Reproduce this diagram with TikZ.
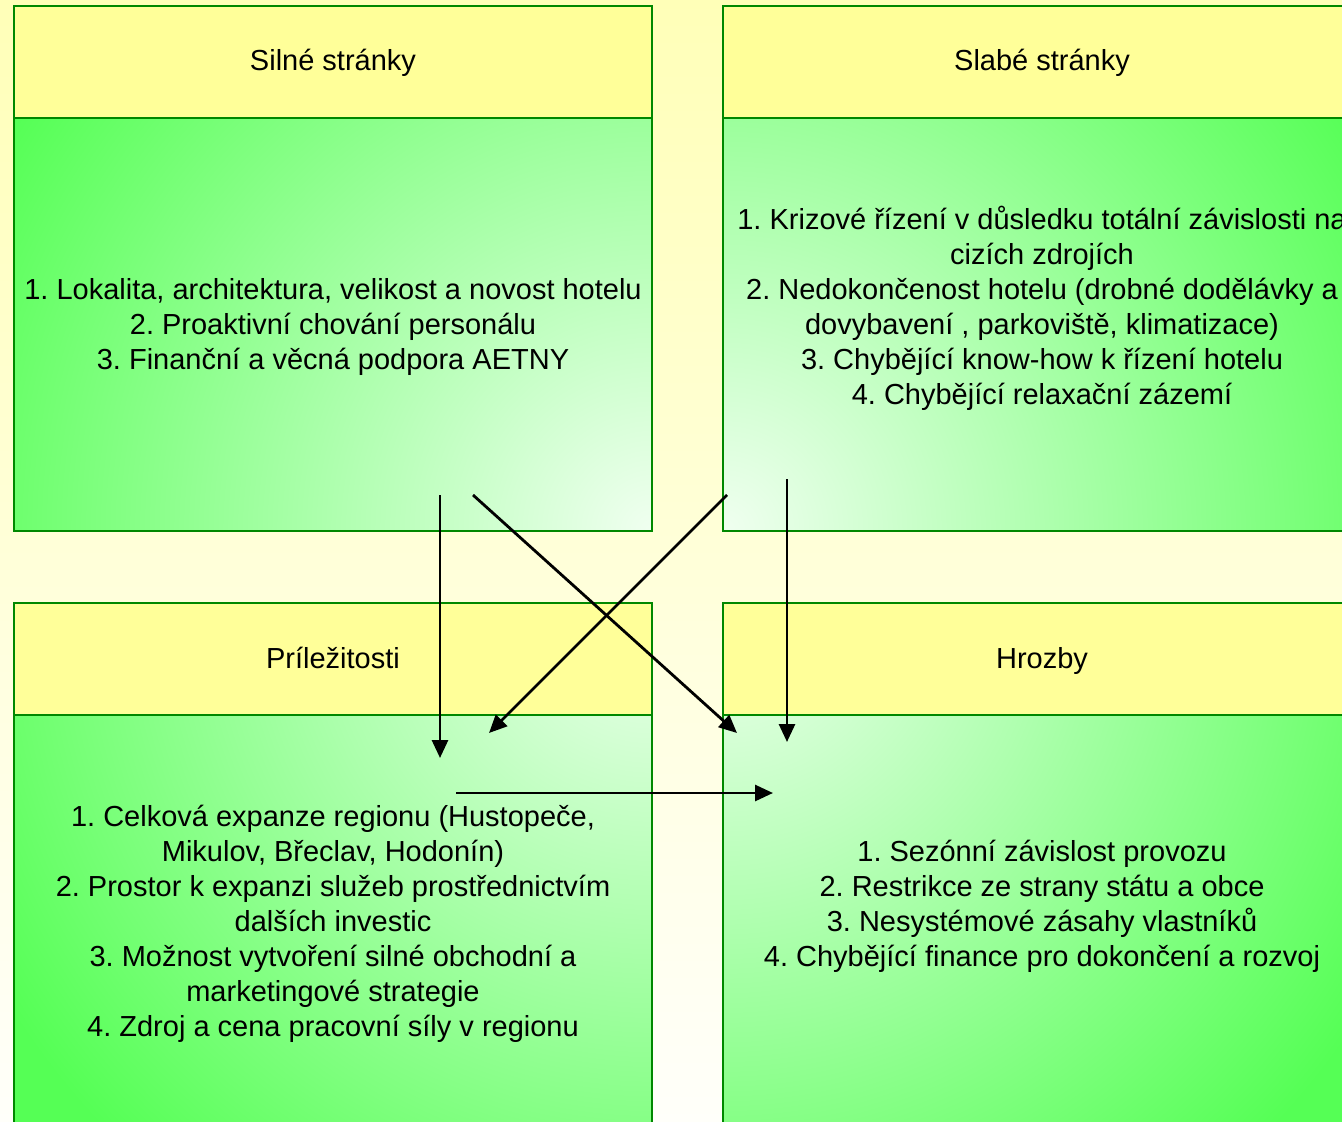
\documentclass[tikz,border=0pt]{standalone}
\usepackage{fontspec}
\setmainfont{Liberation Sans}
\frenchspacing
\usetikzlibrary{arrows.meta}

\begin{document}
\begin{tikzpicture}[x=1pt, y=-1pt,
    boxline/.style={draw=boxgreen, line width=2pt},
    headtext/.style={anchor=base, font=\fontsize{29}{35}\selectfont},
    bodytext/.style={anchor=north, align=center, inner sep=0pt, font=\fontsize{29}{35}\selectfont},
    swotarrow/.style={->, line width=2.8pt},
    >={Triangle[length=18pt, width=16pt]}]
    % Barvy
    \definecolor{boxgreen}{RGB}{0,136,0}
    \definecolor{headyellow}{RGB}{255,255,153}
    \definecolor{bodygreen}{RGB}{85,255,85}
    \definecolor{bodylight}{RGB}{240,255,240}
    \definecolor{bgtop}{RGB}{255,255,184}
    \definecolor{bgmid}{RGB}{255,255,224}
    \definecolor{bgbottom}{RGB}{255,255,250}

    % Pozadi
    \clip (0,0) rectangle (1342,1122);
    \shade[top color=bgtop, middle color=bgmid, bottom color=bgbottom]
        (0,0) rectangle (1342,1122);

    % Silne stranky
    \fill[bodygreen] (14,118) rectangle (652,531);
    \begin{scope}
        \clip (14,118) rectangle (652,531);
        \shade[inner color=bodylight, outer color=bodygreen] (652,531) circle (760pt);
    \end{scope}
    \draw[boxline, fill=headyellow] (14,6) rectangle (652,118);
    \draw[boxline] (14,118) rectangle (652,531);
    \node[headtext] (silneHead) at (333,70) {Silné stránky};
    \node[bodytext] (silneText) at (333,274.5) {\strut 1. Lokalita, architektura, velikost a novost hotelu\\
        2. Proaktivní chování personálu\\
        3. Finanční a věcná podpora AETNY};

    % Slabe stranky
    \fill[bodygreen] (723,118) rectangle (1361,531);
    \begin{scope}
        \clip (723,118) rectangle (1361,531);
        \shade[inner color=bodylight, outer color=bodygreen] (723,531) circle (760pt);
    \end{scope}
    \draw[boxline, fill=headyellow] (723,6) rectangle (1361,118);
    \draw[boxline] (723,118) rectangle (1361,531);
    \node[headtext] (slabeHead) at (1042,70) {Slabé stránky};
    \node[bodytext] (slabeText) at (1042,204.5) {\strut 1. Krizové řízení v důsledku totální závislosti na\\
        cizích zdrojích\\
        2. Nedokončenost hotelu (drobné dodělávky a\\
        dovybavení , parkoviště, klimatizace)\\
        3. Chybějící know-how k řízení hotelu\\
        4. Chybějící relaxační zázemí};

    % Prilezitosti
    \fill[bodygreen] (14,715) rectangle (652,1128);
    \begin{scope}
        \clip (14,715) rectangle (652,1128);
        \shade[inner color=bodylight, outer color=bodygreen] (652,603) circle (760pt);
    \end{scope}
    \draw[boxline, fill=headyellow] (14,603) rectangle (652,715);
    \draw[boxline] (14,715) rectangle (652,1128);
    \node[headtext] (prilezHead) at (333,668) {Príležitosti};
    \node[bodytext] (prilezText) at (333,801.5) {\strut 1. Celková expanze regionu (Hustopeče,\\
        Mikulov, Břeclav, Hodonín)\\
        2. Prostor k expanzi služeb prostřednictvím\\
        dalších investic\\
        3. Možnost vytvoření silné obchodní a\\
        marketingové strategie\\
        4. Zdroj a cena pracovní síly v regionu};

    % Hrozby
    \fill[bodygreen] (723,715) rectangle (1361,1128);
    \begin{scope}
        \clip (723,715) rectangle (1361,1128);
        \shade[inner color=bodylight, outer color=bodygreen] (723,603) circle (760pt);
    \end{scope}
    \draw[boxline, fill=headyellow] (723,603) rectangle (1361,715);
    \draw[boxline] (723,715) rectangle (1361,1128);
    \node[headtext] (hrozbyHead) at (1042,668) {Hrozby};
    \node[bodytext] (hrozbyText) at (1042,836.5) {\strut 1. Sezónní závislost provozu\\
        2. Restrikce ze strany státu a obce\\
        3. Nesystémové zásahy vlastníků\\
        4. Chybějící finance pro dokončení a rozvoj};

    % Vazby mezi kvadranty
    \coordinate (soStart) at (440,495);
    \coordinate (soEnd) at (440,758);
    \coordinate (stStart) at (473,495);
    \coordinate (stEnd) at (737,733);
    \coordinate (woStart) at (727,495);
    \coordinate (woEnd) at (489,733);
    \coordinate (wtStart) at (787,479);
    \coordinate (wtEnd) at (787,742);
    \coordinate (otStart) at (456,793);
    \coordinate (otEnd) at (773,793);

    \draw[swotarrow] (soStart) -- (soEnd);
    \draw[swotarrow] (stStart) -- (stEnd);
    \draw[swotarrow] (woStart) -- (woEnd);
    \draw[swotarrow] (wtStart) -- (wtEnd);
    \draw[swotarrow] (otStart) -- (otEnd);
\end{tikzpicture}
\end{document}
